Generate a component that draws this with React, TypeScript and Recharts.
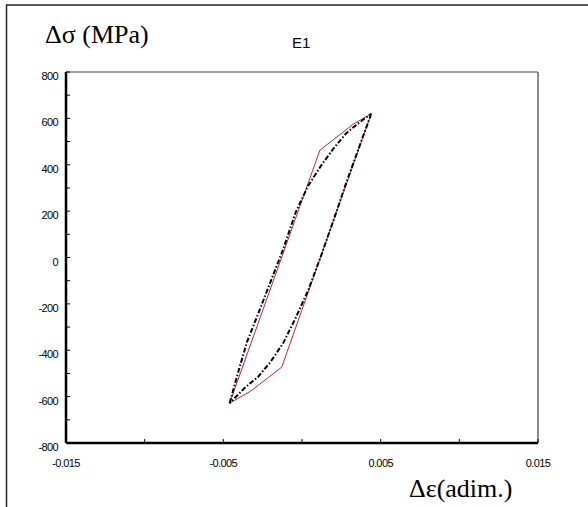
import { LineChart, Line, XAxis, YAxis, ReferenceLine } from 'recharts';

// strain (adim.) and stress (MPa)
const expStrain = [-0.0046, 0.00114, 0.00326, 0.0044, -0.00129, -0.0033, -0.0046];
const expStress = [-628, 463, 575, 620, -473, -578, -628];

const loadStrain = [-0.0046, -0.0041, -0.0035, -0.0028, -0.002, -0.0012, -0.0004, 0.0004, 0.0012, 0.002, 0.0028, 0.0036, 0.0044];
const loadStress = [-628, -505, -365, -245, -105, 35, 195, 310, 395, 470, 535, 580, 620];

const unloadStrain = [0.0044, 0.0036, 0.0028, 0.002, 0.0012, 0.0004, -0.0004, -0.0012, -0.002, -0.0028, -0.0036, -0.0046];
const unloadStress = [620, 470, 320, 160, 5, -140, -260, -370, -450, -515, -560, -628];

const xTicks = [-0.015, -0.01, -0.005, 0, 0.005, 0.01, 0.015];
const xLabels = ['-0.015', '', '-0.005', '', '0.005', '', '0.015'];
const yTicks = [-800, -700, -600, -500, -400, -300, -200, -100, 0, 100, 200, 300, 400, 500, 600, 700, 800];

const toPoints = (xs: number[], ys: number[]) => xs.map((x, i) => ({ x, y: ys[i] }));

const expData = toPoints(expStrain, expStress);
const loadData = toPoints(loadStrain, loadStress);
const unloadData = toPoints(unloadStrain, unloadStress);

const tickFont = '"Liberation Sans", Arial, sans-serif';
const serif = '"Liberation Serif", "Times New Roman", serif';

const XTick = (props: any) => {
  const { x, y, payload } = props;
  const i = xTicks.indexOf(payload.value);
  return (
    <g>
      <line x1={x} x2={x} y1={y} y2={y - 4} stroke="#000" strokeWidth={1} />
      <text x={x} y={y + 24} textAnchor="middle" fontSize={11} fontFamily={tickFont} letterSpacing={-0.6} fill="#000">
        {i >= 0 ? xLabels[i] : ''}
      </text>
    </g>
  );
};

const YTick = (props: any) => {
  const { x, y, payload } = props;
  const v = payload.value as number;
  return (
    <g>
      <line x1={x} x2={x + 4} y1={y} y2={y} stroke="#000" strokeWidth={1} />
      {v % 200 === 0 && (
        <text x={x - 8} y={y + 8} textAnchor="end" fontSize={11} fontFamily={tickFont} letterSpacing={-0.6} fill="#000">
          {v}
        </text>
      )}
    </g>
  );
};

export default function App() {
  return (
    <div style={{ position: 'absolute', left: 0, top: 0, width: 588, height: 507, background: '#fff' }}>
      <LineChart width={588} height={507} margin={{ top: 72, right: 50, bottom: 34, left: 6 }}>
        <XAxis
          type="number"
          dataKey="x"
          domain={[-0.015, 0.015]}
          ticks={xTicks}
          height={30}
          tickSize={0}
          tickMargin={0}
          tick={<XTick />}
          interval={0}
          axisLine={{ stroke: '#000', strokeWidth: 2.5 }}
          allowDataOverflow
        />
        <YAxis
          type="number"
          domain={[-800, 800]}
          ticks={yTicks}
          width={60}
          tickSize={0}
          tickMargin={0}
          tick={<YTick />}
          interval={0}
          axisLine={{ stroke: '#000', strokeWidth: 2.5 }}
        />
        <ReferenceLine y={800} stroke="#444" strokeWidth={1} />
        <ReferenceLine x={0.015} stroke="#666" strokeWidth={1.5} />
        <Line data={expData} dataKey="y" stroke="#b22a2a" strokeWidth={1} dot={false} isAnimationActive={false} />
        <Line
          data={loadData}
          dataKey="y"
          stroke="#000"
          strokeWidth={2}
          strokeDasharray="5 2 1.5 2"
          dot={false}
          isAnimationActive={false}
        />
        <Line
          data={unloadData}
          dataKey="y"
          stroke="#000"
          strokeWidth={2}
          strokeDasharray="5 2 1.5 2"
          dot={false}
          isAnimationActive={false}
        />
      </LineChart>
      <svg width={588} height={507} style={{ position: 'absolute', left: 0, top: 0, pointerEvents: 'none' }}>
        <line x1={6} x2={588} y1={5} y2={5} stroke="#222" strokeWidth={1.5} />
        <line x1={6.5} x2={6.5} y1={5} y2={507} stroke="#222" strokeWidth={1.5} />
        <text x={45} y={43} fontSize={26} fontFamily={serif} fill="#000">
          Δσ (MPa)
        </text>
        <text x={292} y={48} fontSize={15} fontFamily={tickFont} fill="#000">
          E1
        </text>
        <text x={409} y={497} fontSize={26} fontFamily={serif} fill="#000">
          Δε(adim.)
        </text>
      </svg>
    </div>
  );
}
